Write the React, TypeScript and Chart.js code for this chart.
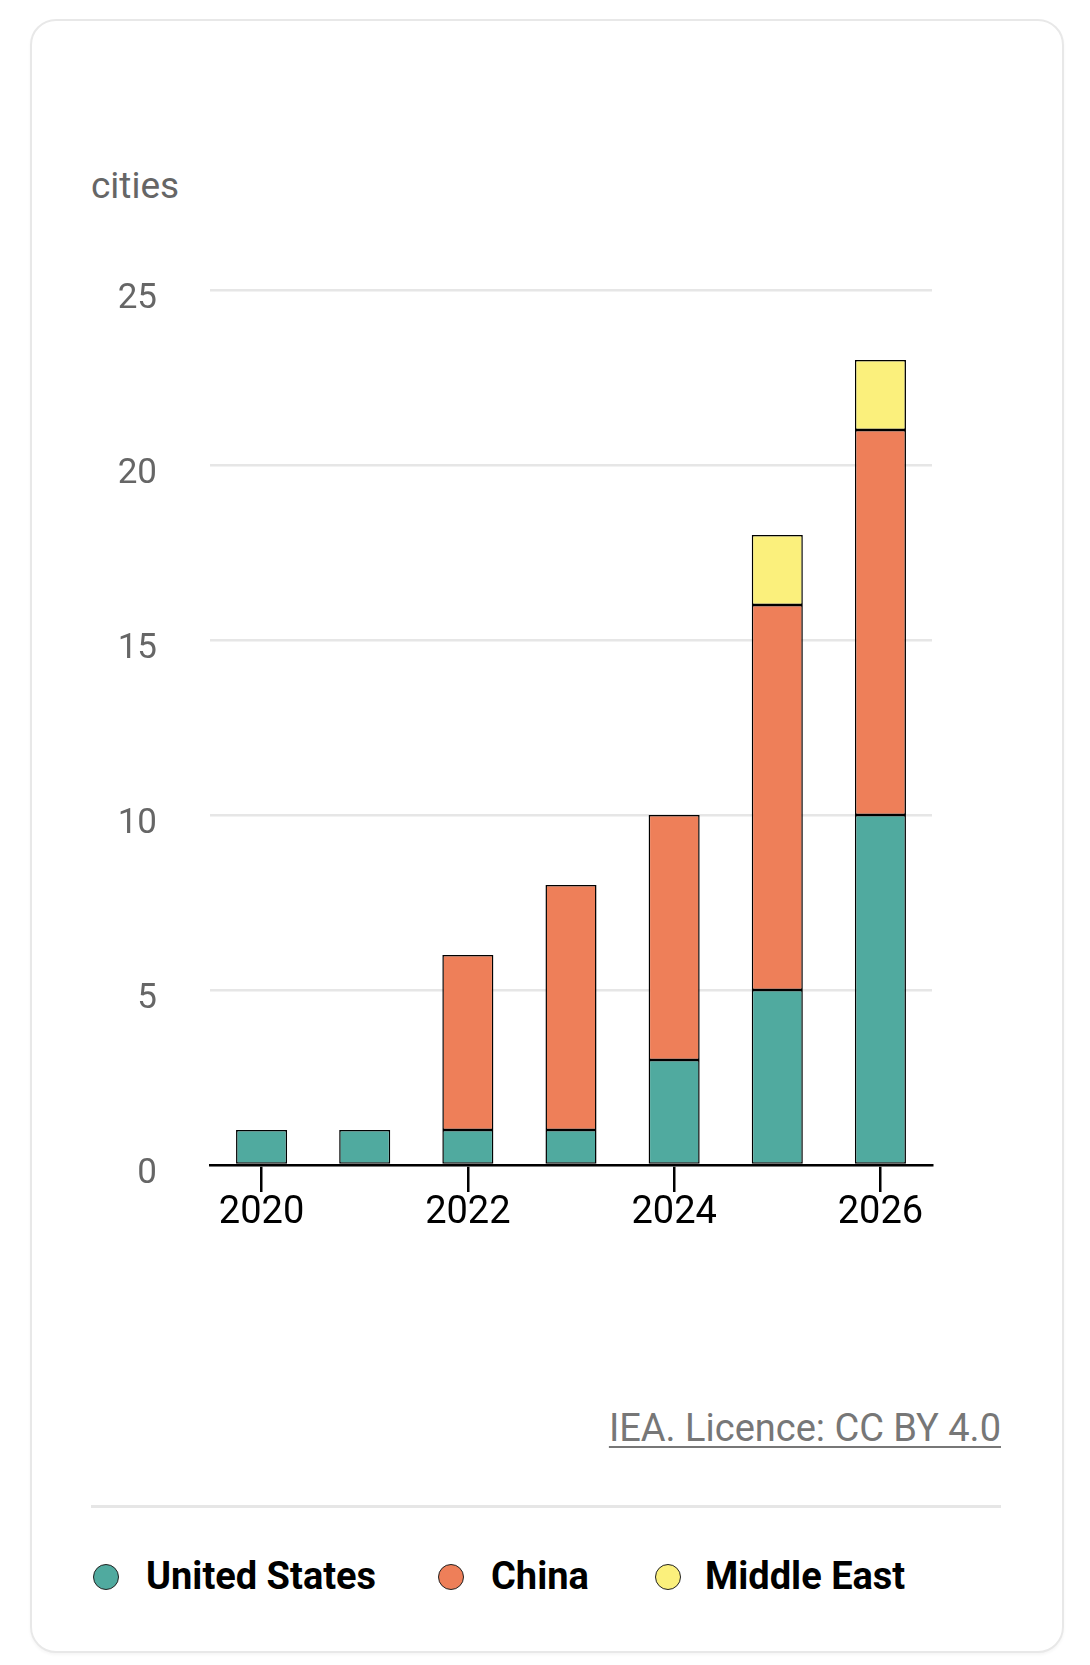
import React, { useEffect, useRef } from 'react';
import Chart from 'chart.js/auto';

const years = ['2020', '2021', '2022', '2023', '2024', '2025', '2026'];
const unitedStates = [1, 1, 1, 1, 3, 5, 10];
const china = [0, 0, 5, 7, 7, 11, 11];
const middleEast = [0, 0, 0, 0, 0, 2, 2];
const yTicks = [0, 5, 10, 15, 20, 25];

const TEAL = '#50aa9f';
const ORANGE = '#ee7f59';
const YELLOW = '#fbf07c';

const FONT = 'Roboto, "Open Sans", sans-serif';

const legendItems = [
  { label: 'United States', color: TEAL, dot: 93, text: 146 },
  { label: 'China', color: ORANGE, dot: 438, text: 491 },
  { label: 'Middle East', color: YELLOW, dot: 655, text: 705 },
];

const BarChart: React.FC = () => {
  const chartRef = useRef<HTMLCanvasElement>(null);

  useEffect(() => {
    const ctx = chartRef.current?.getContext('2d');
    if (!ctx) return;

    const bar = (label: string, data: number[], color: string) => ({
      label,
      data,
      backgroundColor: color,
      borderColor: '#000',
      borderWidth: 1.5,
      borderSkipped: false as const,
      barPercentage: 0.495,
      categoryPercentage: 1,
    });

    const myChart = new Chart(ctx, {
      type: 'bar',
      data: {
        labels: years,
        datasets: [
          bar('United States', unitedStates, TEAL),
          bar('China', china, ORANGE),
          bar('Middle East', middleEast, YELLOW),
        ],
      },
      options: {
        animation: false,
        responsive: true,
        maintainAspectRatio: false,
        layout: { padding: { left: 0, right: 158, top: 290, bottom: 55 } },
        plugins: {
          legend: { display: false },
          tooltip: { enabled: false },
        },
        scales: {
          x: {
            stacked: true,
            afterFit: (s: any) => {
              s.height = 80;
            },
            border: { display: true, color: '#000', width: 2.5 },
            grid: {
              offset: false,
              drawOnChartArea: false,
              drawTicks: true,
              tickLength: 27,
              lineWidth: 2.5,
              color: (c: any) => (c.index % 2 === 0 ? '#000' : 'rgba(0,0,0,0)'),
            },
            ticks: {
              autoSkip: false,
              maxRotation: 0,
              padding: -1,
              color: '#000',
              font: { family: FONT, size: 38 },
              callback: (_v: any, i: number) => (i % 2 === 0 ? years[i] : ''),
            },
          },
          y: {
            stacked: true,
            min: yTicks[0],
            max: yTicks[yTicks.length - 1],
            afterFit: (s: any) => {
              s.width = 210;
            },
            afterBuildTicks: (s: any) => {
              s.ticks = yTicks.map((v) => ({ value: v }));
            },
            border: { display: false },
            grid: {
              color: '#e6e6e6',
              lineWidth: 2.5,
              drawTicks: false,
            },
            ticks: {
              padding: 53,
              labelOffset: 9,
              color: '#666',
              font: { family: FONT, size: 35 },
            },
          },
        },
      },
    });

    return () => {
      myChart.destroy();
    };
  }, []);

  return (
    <div style={{ position: 'absolute', left: 0, top: 0, width: 1090, height: 1300 }}>
      <canvas ref={chartRef}></canvas>
    </div>
  );
};

const App: React.FC = () => {
  return (
    <div
      style={{
        position: 'absolute',
        left: 0,
        top: 0,
        width: 1090,
        height: 1665,
        background: '#fff',
        fontFamily: FONT,
        overflow: 'hidden',
      }}
    >
      <div
        style={{
          position: 'absolute',
          left: 30,
          top: 19,
          width: 1034,
          height: 1634,
          boxSizing: 'border-box',
          border: '2px solid #e8e8e8',
          borderRadius: 26,
          boxShadow: '0 2px 3px rgba(0,0,0,0.04)',
        }}
      />
      <div
        style={{
          position: 'absolute',
          left: 91,
          top: 166,
          fontSize: 37,
          lineHeight: '40px',
          color: '#666',
        }}
      >
        cities
      </div>
      <BarChart />
      <div
        style={{
          position: 'absolute',
          right: 1090 - 1001,
          top: 1406,
          fontSize: 38,
          lineHeight: '44px',
          color: '#777',
          textDecoration: 'underline',
          textUnderlineOffset: 5,
          textDecorationThickness: 2,
          whiteSpace: 'nowrap',
        }}
      >
        IEA. Licence: CC BY 4.0
      </div>
      <div
        style={{
          position: 'absolute',
          left: 91,
          top: 1505,
          width: 910,
          height: 3,
          background: '#e6e6e6',
        }}
      />
      {legendItems.map((item) => (
        <React.Fragment key={item.label}>
          <div
            style={{
              position: 'absolute',
              left: item.dot,
              top: 1564,
              width: 26,
              height: 26,
              boxSizing: 'border-box',
              borderRadius: '50%',
              border: '1.5px solid #222',
              background: item.color,
            }}
          />
          <div
            style={{
              position: 'absolute',
              left: item.text,
              top: 1554,
              fontSize: 38,
              lineHeight: '44px',
              fontWeight: 700,
              color: '#000',
              whiteSpace: 'nowrap',
            }}
          >
            {item.label}
          </div>
        </React.Fragment>
      ))}
    </div>
  );
};

export default App;
